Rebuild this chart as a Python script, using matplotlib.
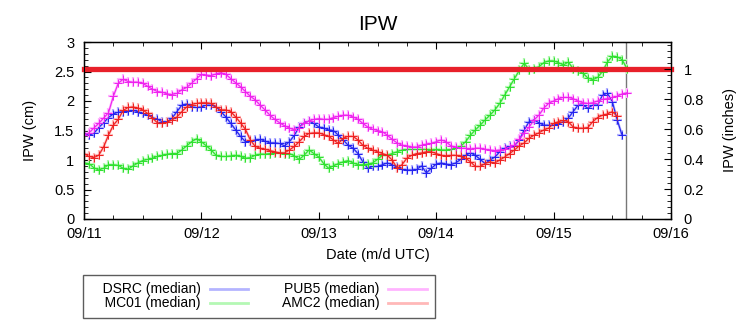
import matplotlib
matplotlib.use("Agg")
import matplotlib.pyplot as plt
from matplotlib.lines import Line2D
from matplotlib.ticker import MultipleLocator

plt.rcParams['font.family'] = ['Liberation Sans', 'DejaVu Sans']

# ---- data (hourly medians, hours since 09/11 00 UTC) ----
dsrc = [1.45,1.42,1.45,1.55,1.63,1.72,1.78,1.81,1.82,1.83,1.84,1.82,1.79,1.76,1.72,1.69,1.65,1.65,1.71,1.82,1.93,1.95,1.90,1.89,
        1.90,1.93,1.93,1.90,1.82,1.73,1.62,1.51,1.40,1.31,1.32,1.34,1.35,1.32,1.29,1.29,1.28,1.24,1.31,1.42,1.56,1.63,1.66,1.62,
        1.56,1.54,1.51,1.50,1.42,1.34,1.25,1.20,1.11,0.97,0.86,0.89,0.89,0.92,0.95,0.92,0.88,0.84,0.83,0.83,0.84,0.90,0.78,0.86,
        0.93,0.95,0.93,0.92,0.95,1.01,1.08,1.12,1.08,1.01,0.94,1.00,1.05,1.14,1.20,1.23,1.24,1.34,1.51,1.65,1.68,1.63,1.59,1.59,
        1.59,1.61,1.65,1.71,1.82,1.93,1.93,1.88,1.93,1.93,2.10,2.13,1.99,1.68,1.42]
mc01 = [0.95,0.94,0.87,0.83,0.86,0.92,0.92,0.91,0.86,0.84,0.90,0.95,0.99,1.01,1.03,1.06,1.08,1.10,1.11,1.11,1.17,1.24,1.31,1.36,
        1.31,1.24,1.17,1.08,1.06,1.06,1.07,1.08,1.06,1.03,1.04,1.08,1.10,1.10,1.11,1.12,1.12,1.11,1.11,1.07,1.01,1.08,1.17,1.11,
        1.05,0.94,0.86,0.90,0.94,0.97,0.99,0.95,0.92,0.92,0.93,0.95,1.01,1.08,1.08,1.11,1.14,1.17,1.18,1.18,1.18,1.18,1.18,1.17,
        1.18,1.17,1.17,1.18,1.20,1.23,1.31,1.42,1.51,1.59,1.68,1.76,1.85,1.96,2.10,2.24,2.38,2.52,2.64,2.53,2.55,2.58,2.65,2.68,
        2.68,2.65,2.61,2.66,2.55,2.51,2.47,2.39,2.36,2.40,2.50,2.66,2.76,2.75,2.70,2.55]
pub5 = [1.42,1.46,1.54,1.62,1.71,1.80,2.08,2.30,2.37,2.33,2.32,2.32,2.30,2.25,2.20,2.16,2.15,2.12,2.11,2.13,2.19,2.23,2.30,2.38,
        2.45,2.44,2.43,2.46,2.48,2.45,2.38,2.31,2.24,2.16,2.08,2.02,1.93,1.85,1.76,1.69,1.63,1.58,1.54,1.51,1.55,1.62,1.66,1.69,
        1.70,1.69,1.69,1.72,1.74,1.76,1.76,1.73,1.69,1.62,1.56,1.52,1.50,1.48,1.42,1.35,1.29,1.25,1.24,1.22,1.22,1.25,1.27,1.28,
        1.31,1.34,1.31,1.24,1.22,1.20,1.20,1.18,1.20,1.20,1.18,1.17,1.16,1.17,1.18,1.22,1.25,1.35,1.46,1.56,1.68,1.76,1.88,1.96,
        2.00,2.04,2.06,2.06,2.04,2.00,1.97,1.96,1.97,2.00,2.03,2.04,2.06,2.08,2.12,2.14]
amc2 = [1.11,1.06,1.04,1.08,1.22,1.42,1.59,1.69,1.84,1.89,1.90,1.88,1.85,1.79,1.71,1.63,1.62,1.64,1.68,1.73,1.82,1.90,1.94,1.96,
        1.97,1.97,1.96,1.90,1.85,1.85,1.82,1.73,1.63,1.52,1.34,1.23,1.20,1.18,1.16,1.14,1.12,1.12,1.17,1.23,1.31,1.40,1.45,1.46,
        1.46,1.43,1.40,1.34,1.28,1.37,1.40,1.40,1.34,1.25,1.20,1.17,1.14,1.11,1.08,1.00,0.86,0.92,1.03,1.08,1.11,1.12,1.14,1.14,
        1.11,1.08,1.07,1.08,1.08,1.07,1.03,0.97,0.89,0.89,0.94,0.97,0.95,1.00,1.05,1.11,1.17,1.24,1.29,1.37,1.42,1.46,1.51,1.54,
        1.62,1.65,1.67,1.65,1.56,1.54,1.54,1.55,1.65,1.72,1.76,1.78,1.82,1.74]

series_names = ["DSRC (median)", "MC01 (median)", "PUB5 (median)", "AMC2 (median)"]
series_vals = [dsrc, mc01, pub5, amc2]
dark_colors = ["#2222ee", "#2ee02e", "#ee22ee", "#ee2020"]
light_colors = ["#b4b4ff", "#b4f8b4", "#ffb4ff", "#ffb8b8"]

threshold_inches = 1.0
now_hours = 110.8
day_labels = ["09/11", "09/12", "09/13", "09/14", "09/15", "09/16"]
CM_PER_INCH = 2.54
FS = 10.5

fig = plt.figure(figsize=(7.56, 3.24), dpi=100)
ax = fig.add_axes([84/756, 1-219/324, (671-84)/756, (219-42)/324])

for vals, dc, lc in zip(series_vals, dark_colors, light_colors):
    hrs = list(range(len(vals)))
    ax.plot(hrs, vals, color=lc, lw=1.8, marker='+', ms=6.5, mew=1.6, zorder=2)
    ax.plot(hrs, vals, color=dc, lw=0.8, marker='+', ms=5.5, mew=0.7, zorder=3)

ax.axhline(threshold_inches*CM_PER_INCH, color="#e8202a", lw=3.8, zorder=4, clip_on=False)
ax.axvline(now_hours, color="#777777", lw=1.0, zorder=1)

ax.set_xlim(0, 120)
ax.set_ylim(0, 3)
ax.set_xticks([24*i for i in range(len(day_labels))])
ax.set_xticklabels(day_labels)
ax.xaxis.set_minor_locator(MultipleLocator(6))
ax.yaxis.set_major_locator(MultipleLocator(0.5))
ax.yaxis.set_minor_locator(MultipleLocator(0.1))
ax.yaxis.set_major_formatter(plt.FuncFormatter(lambda v, p: f"{v:g}"))
ax.tick_params(which='both', direction='in', top=True, right=False, labelsize=FS)
ax.tick_params(axis='x', which='major', length=5, pad=6)
ax.tick_params(axis='y', which='major', length=5, pad=7)
ax.tick_params(which='minor', length=3)
for s in ax.spines.values():
    s.set_linewidth(1.0)
ax.set_ylabel("IPW (cm)", fontsize=FS, labelpad=12)
ax.set_xlabel("Date (m/d UTC)", fontsize=FS, labelpad=5)
ax.set_title("IPW", fontsize=15, pad=9)

ax2 = ax.twinx()
ax2.set_ylim(0, 3/CM_PER_INCH)
ax2.yaxis.set_major_locator(MultipleLocator(0.2))
ax2.yaxis.set_minor_locator(MultipleLocator(0.04))
ax2.yaxis.set_major_formatter(plt.FuncFormatter(lambda v, p: f"{v:g}"))
ax2.tick_params(which='both', direction='in', labelsize=FS)
ax2.tick_params(which='major', length=5, pad=9)
ax2.tick_params(which='minor', length=3)
ax2.set_ylabel("IPW (inches)", fontsize=FS, labelpad=14)

handles = [Line2D([], [], color=lc, lw=2) for lc in light_colors]
labels = ["   " + n if i < 2 else n for i, n in enumerate(series_names)]
leg = fig.legend(handles, labels,
                 ncol=2, markerfirst=False, loc='lower left',
                 bbox_to_anchor=(83/756, 6/324), fontsize=10,
                 frameon=True, fancybox=False, borderaxespad=0,
                 handlelength=2.8, handletextpad=0.65, columnspacing=2.4,
                 labelspacing=0.0, borderpad=0.55)
leg.get_frame().set_edgecolor("#333333")
leg.get_frame().set_linewidth(1.0)

fig.savefig("out.png", dpi=100)
